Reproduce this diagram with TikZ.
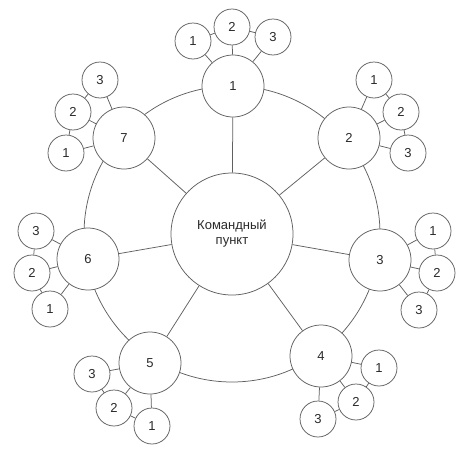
\documentclass[tikz,border=0pt]{standalone}
\usepackage{fontspec}
\setmainfont{Liberation Sans}
\definecolor{ln}{HTML}{606060}
\definecolor{tx}{HTML}{2A2A2A}
\begin{document}
\begin{tikzpicture}[x=1pt,y=-1pt,
  every node/.style={font=\fontsize{13}{15}\selectfont, text=tx},
  base/.style={circle, draw=ln, line width=0.75pt, fill=white, inner sep=0pt},
  hub/.style={base, minimum size=122pt, align=center},
  sat/.style={base, minimum size=62pt},
  sub/.style={base, minimum size=36pt},
  conn/.style={draw=ln, line width=0.75pt}]
\useasboundingbox (0,0) rectangle (461,450);
\coordinate (o) at (232,234);
\draw[conn] (o) circle (148pt);
\node[hub] (c) at (o) {Командный\\пункт};
\node[sat] (m1) at (233,86) {1};
\node[sat] (m2) at (349,138) {2};
\node[sat] (m3) at (380,260) {3};
\node[sat] (m4) at (321,356) {4};
\node[sat] (m5) at (150,363) {5};
\node[sat] (m6) at (88,259) {6};
\node[sat] (m7) at (124,138) {7};
% subs of 1
\node[sub] (a1) at (193,41) {1};
\node[sub] (a2) at (232,27) {2};
\node[sub] (a3) at (273,37) {3};
% subs of 2
\node[sub] (b1) at (374,80) {1};
\node[sub] (b2) at (401,112) {2};
\node[sub] (b3) at (408,153) {3};
% subs of 3
\node[sub] (d1) at (433,231) {1};
\node[sub] (d2) at (437,273) {2};
\node[sub] (d3) at (419,310) {3};
% subs of 4
\node[sub] (e1) at (379,368) {1};
\node[sub] (e2) at (356,402) {2};
\node[sub] (e3) at (318,419) {3};
% subs of 5
\node[sub] (f1) at (152,426) {1};
\node[sub] (f2) at (114,408) {2};
\node[sub] (f3) at (92,374) {3};
% subs of 6
\node[sub] (g1) at (50,309) {1};
\node[sub] (g2) at (32,273) {2};
\node[sub] (g3) at (36,231) {3};
% subs of 7
\node[sub] (h1) at (66,153) {1};
\node[sub] (h2) at (73,112) {2};
\node[sub] (h3) at (100,80) {3};
\foreach \m in {m1,m2,m3,m4,m5,m6,m7} \draw[conn] (c) -- (\m);
\foreach \m/\s in {m1/a,m2/b,m3/d,m4/e,m5/f,m6/g,m7/h}{
  \draw[conn] (\m) -- (\s1);
  \draw[conn] (\m) -- (\s2);
  \draw[conn] (\m) -- (\s3);
  \draw[conn] (\s1) -- (\s2);
  \draw[conn] (\s2) -- (\s3);
}
\end{tikzpicture}
\end{document}
